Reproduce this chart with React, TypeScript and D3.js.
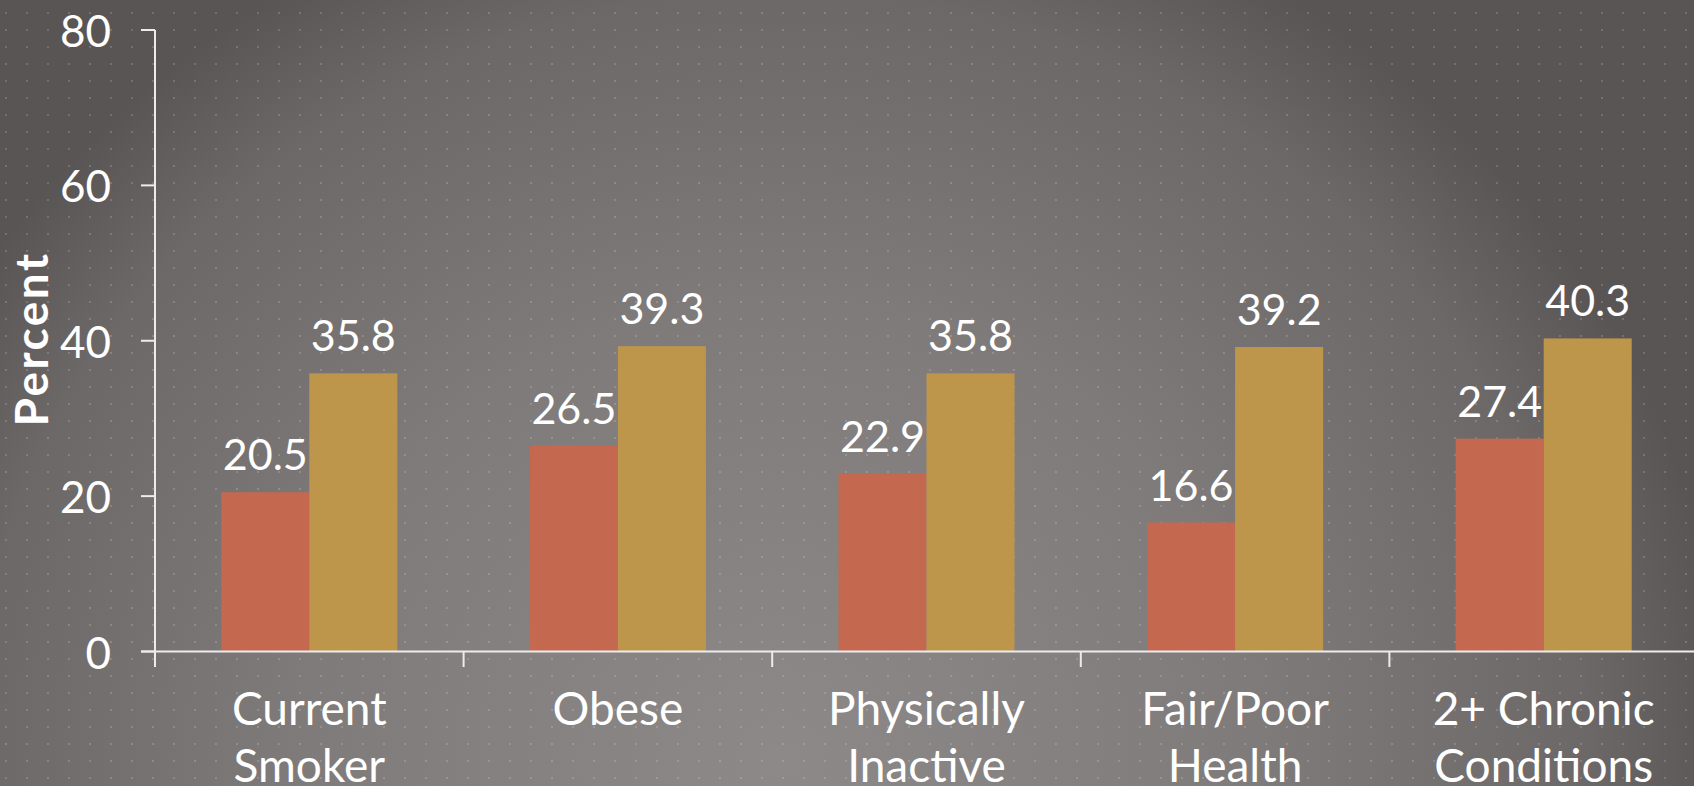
import React from "react";
import * as d3 from "d3";

const categories: string[][] = [
  ["Current", "Smoker"],
  ["Obese"],
  ["Physically", "Inactive"],
  ["Fair/Poor", "Health"],
  ["2+ Chronic", "Conditions"],
];
const categoryKeys = ["Current Smoker", "Obese", "Physically Inactive", "Fair/Poor Health", "2+ Chronic Conditions"];
const seriesNames = ["Group A", "Group B"];
const seriesA = [20.5, 26.5, 22.9, 16.6, 27.4];
const seriesB = [35.8, 39.3, 35.8, 39.2, 40.3];
const yTicks = [0, 20, 40, 60, 80];
const seriesColors = ["#C4684F", "#BE964B"];

const W = 1694;
const H = 786;
const FONT = "Lato, 'Open Sans', sans-serif";

export default function App() {
  const x0 = d3.scaleBand<string>().domain(categoryKeys).range([155, 1698]).paddingInner(0).paddingOuter(0);
  const x1 = d3.scaleBand<string>().domain(seriesNames).range([0, x0.bandwidth()]).paddingInner(0).paddingOuter(0.753);
  const y = d3.scaleLinear().domain([0, 80]).range([651.5, 30]);
  const axisColor = "#ECECEC";
  const values = [seriesA, seriesB];
  const boundaries = categoryKeys.map((c) => x0(c)!).concat([x0.range()[1]]);

  return (
    <svg width={W} height={H} style={{ position: "absolute", left: 0, top: 0, display: "block" }} fontFamily={FONT}>
      <defs>
        <radialGradient id="bg" gradientUnits="userSpaceOnUse" cx={780} cy={760} r={950}
          gradientTransform="translate(780 760) scale(1 0.95) translate(-780 -760)">
          <stop offset="0" stopColor="#8c8988" />
          <stop offset="0.5" stopColor="#7f7b7a" />
          <stop offset="0.85" stopColor="#6c6867" />
          <stop offset="1" stopColor="#5a5555" />
        </radialGradient>
        <pattern id="dots" patternUnits="userSpaceOnUse" x={0} y={0} width={21} height={17}>
          <rect x={5} y={12} width={2} height={2} fill="rgba(255,255,255,0.16)" />
        </pattern>
      </defs>
      <rect x={0} y={0} width={W} height={H} fill="url(#bg)" />
      <rect x={0} y={0} width={W} height={H} fill="url(#dots)" />

      {/* bars */}
      {categoryKeys.map((c, i) => (
        <g key={c}>
          {seriesNames.map((s, j) => {
            const v = values[j][i];
            const bx = x0(c)! + x1(s)!;
            return (
              <g key={s}>
                <rect x={bx} y={y(v)} width={x1.bandwidth()} height={y(0) - y(v)} fill={seriesColors[j]} />
                <text x={bx + x1.bandwidth() / 2} y={y(v) - 22} textAnchor="middle" fill="#fff" fontSize={43}>
                  {v.toFixed(1)}
                </text>
              </g>
            );
          })}
        </g>
      ))}

      {/* y axis */}
      <line x1={155} x2={155} y1={y(80)} y2={667} stroke={axisColor} strokeWidth={2} />
      {yTicks.map((t) => (
        <g key={t}>
          <line x1={141} x2={155} y1={y(t)} y2={y(t)} stroke={axisColor} strokeWidth={2} />
          <text x={111} y={y(t)} textAnchor="end" dominantBaseline="central" fill="#fff" fontSize={44}>
            {t}
          </text>
        </g>
      ))}
      <text
        transform={`translate(30, 339) rotate(-90)`}
        textAnchor="middle"
        dominantBaseline="central"
        fill="#fff"
        fontSize={46}
        fontWeight="bold"
        letterSpacing={2.5}
      >
        Percent
      </text>

      {/* x axis */}
      <line x1={141} x2={W} y1={y(0)} y2={y(0)} stroke={axisColor} strokeWidth={2} />
      {boundaries.map((b, i) => (
        <line key={i} x1={b} x2={b} y1={y(0)} y2={667} stroke={axisColor} strokeWidth={2} />
      ))}
      {categoryKeys.map((c, i) => (
        <text key={c} x={x0(c)! + x0.bandwidth() / 2} y={725} textAnchor="middle" fill="#fff" fontSize={46}>
          {categories[i].map((line, k) => (
            <tspan key={k} x={x0(c)! + x0.bandwidth() / 2} dy={k === 0 ? 0 : 57}>
              {line}
            </tspan>
          ))}
        </text>
      ))}
    </svg>
  );
}
